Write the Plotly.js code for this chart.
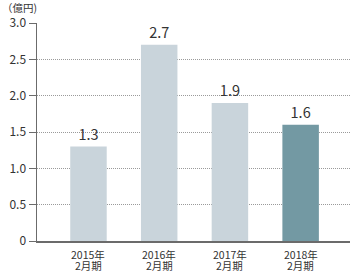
<!DOCTYPE html>
<html>
<head>
<meta charset="utf-8">
<script src="https://cdn.plot.ly/plotly-3.0.1.min.js"></script>
<style>html,body{margin:0;padding:0;background:#fff;}#chart{width:350px;height:272px;}</style>
</head>
<body>
<div id="chart"></div>
<script>
const categoryYears = ["2015年", "2016年", "2017年", "2018年"];
const categoryPeriods = ["2月期", "2月期", "2月期", "2月期"];
const values = [1.3, 2.7, 1.9, 1.6];
const valueLabels = ["1.3", "2.7", "1.9", "1.6"];
const barColors = ["#c9d4db", "#c9d4db", "#c9d4db", "#7399a3"];
const yTickVals = [0, 0.5, 1.0, 1.5, 2.0, 2.5, 3.0];
const yTickText = ["0", "0.5", "1.0", "1.5", "2.0", "2.5", "3.0"];
const unitLabel = "（億円)";

const font = "'Noto Sans CJK JP', 'Noto Sans', sans-serif";
const xs = categoryYears.map((_, i) => i);

const catAnnotations = [];
xs.forEach((x, i) => {
  catAnnotations.push({
    text: categoryYears[i], xref: "x", yref: "paper", x: x, y: 0,
    yshift: -13.5, xanchor: "center", yanchor: "middle", showarrow: false,
    borderpad: 0,
    font: {family: font, size: 10.5, color: "#333"}
  });
  catAnnotations.push({
    text: categoryPeriods[i], xref: "x", yref: "paper", x: x, y: 0,
    yshift: -24, xanchor: "center", yanchor: "middle", showarrow: false,
    borderpad: 0,
    font: {family: font, size: 10.5, color: "#333"}
  });
});

Plotly.newPlot("chart", [{
  type: "bar",
  x: xs,
  y: values,
  width: 0.516,
  marker: {color: barColors},
  text: valueLabels,
  textposition: "outside",
  textfont: {family: font, size: 14.5, color: "#333"},
  cliponaxis: false,
  hoverinfo: "none"
}], {
  width: 350,
  height: 272,
  margin: {l: 37, r: 0, t: 23, b: 31, pad: 0},
  paper_bgcolor: "#fff",
  plot_bgcolor: "#fff",
  showlegend: false,
  font: {family: font, color: "#333"},
  xaxis: {
    range: [-0.728, 3.698],
    tickvals: xs,
    showticklabels: false,
    showgrid: false,
    zeroline: false,
    showline: true,
    linecolor: "#6b6b6b",
    linewidth: 1.5,
    ticks: "",
    fixedrange: true
  },
  yaxis: {
    range: [0, 3.0],
    tickvals: yTickVals,
    ticktext: yTickText,
    tickfont: {family: font, size: 12, color: "#333"},
    ticks: "outside",
    ticklen: 7,
    tickwidth: 1,
    tickcolor: "#6b6b6b",
    showline: true,
    linecolor: "#6b6b6b",
    linewidth: 1.5,
    showgrid: true,
    gridcolor: "#9a9a9a",
    gridwidth: 1,
    griddash: "1px,1px",
    zeroline: false,
    fixedrange: true
  },
  annotations: [{
    text: unitLabel,
    xref: "paper", yref: "paper",
    x: -37/313, y: 1 + 16/218,
    xanchor: "left", yanchor: "middle",
    showarrow: false,
    font: {family: font, size: 10.5, color: "#333"}
  }].concat(catAnnotations)
}, {staticPlot: true, displayModeBar: false});
</script>
</body>
</html>
